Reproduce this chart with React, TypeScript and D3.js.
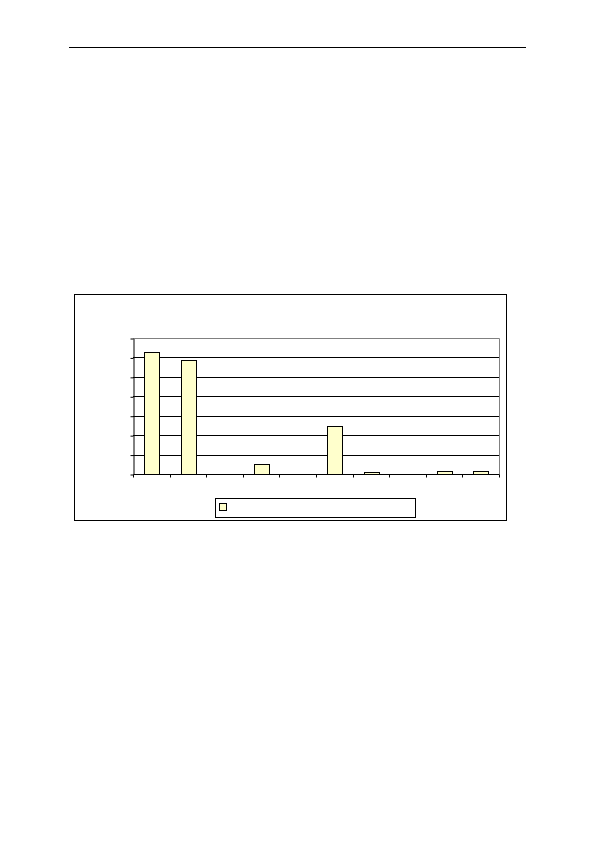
import React, { useRef, useEffect } from 'react';
import * as d3 from 'd3';

// category ids (the original chart shows no axis labels)
const categories = ['c1', 'c2', 'c3', 'c4', 'c5', 'c6', 'c7', 'c8', 'c9', 'c10'];
const values = [62.7, 58.6, 0, 5.2, 0, 24.9, 1.0, 0, 1.6, 1.6];
const yTicks = [0, 10, 20, 30, 40, 50, 60, 70];

const App: React.FC = () => {
  const svgRef = useRef<SVGSVGElement>(null);

  useEffect(() => {
    const svg = d3.select(svgRef.current);
    svg.selectAll('*').remove();

    // page header rule
    svg.append('line')
      .attr('x1', 69).attr('x2', 526)
      .attr('y1', 47.5).attr('y2', 47.5)
      .attr('stroke', '#000').attr('stroke-width', 1.2);

    // chart frame
    svg.append('rect')
      .attr('x', 74.5).attr('y', 294.5)
      .attr('width', 432).attr('height', 226)
      .attr('fill', '#fff').attr('stroke', '#000').attr('stroke-width', 1);

    const left = 133, right = 499, top = 338, bottom = 474;

    const x = d3.scaleBand<string>()
      .domain(categories)
      .range([left, right])
      .paddingInner(0.6)
      .paddingOuter(0.3);

    const xEdges = d3.scaleBand<string>()
      .domain(categories)
      .range([left, right])
      .padding(0);

    const y = d3.scaleLinear().domain([0, 70]).range([bottom, top]);

    // gridlines
    svg.append('g')
      .selectAll('line')
      .data(yTicks.filter(t => t > 0 && t < 70))
      .join('line')
      .attr('x1', left).attr('x2', right)
      .attr('y1', d => Math.round(y(d)) + 0.5)
      .attr('y2', d => Math.round(y(d)) + 0.5)
      .attr('stroke', '#000').attr('stroke-width', 1);

    // plot area border (top / right), grey
    svg.append('path')
      .attr('d', `M${left},${top + 0.5}H${right + 0.5}V${bottom}`)
      .attr('fill', 'none')
      .attr('stroke', '#808080').attr('stroke-width', 1);

    // bars
    svg.append('g')
      .selectAll('rect')
      .data(values.map((v, i) => ({ name: categories[i], value: v })).filter(d => d.value > 0))
      .join('rect')
      .attr('x', d => Math.round(x(d.name)!) + 0.5)
      .attr('width', Math.round(x.bandwidth()))
      .attr('y', d => Math.round(y(d.value)) + 0.5)
      .attr('height', d => Math.round(y(0)) - Math.round(y(d.value)))
      .attr('fill', '#FFFFCC')
      .attr('stroke', '#000').attr('stroke-width', 1);

    // y axis
    const yAxis = svg.append('g')
      .attr('transform', `translate(${left + 0.5},0.5)`)
      .call(d3.axisLeft(y).tickValues(yTicks).tickSize(3).tickSizeOuter(0).tickFormat(() => ''));
    yAxis.selectAll('line').attr('stroke', '#000');
    yAxis.select('.domain').attr('stroke', '#000');

    // x axis with ticks at category boundaries
    const xAxis = svg.append('g')
      .attr('transform', `translate(0.5,${bottom + 0.5})`);
    xAxis.append('line')
      .attr('x1', left).attr('x2', right)
      .attr('y1', 0).attr('y2', 0)
      .attr('stroke', '#000');
    xAxis.selectAll('line.tick')
      .data([...categories.map(c => xEdges(c)!), right])
      .join('line')
      .attr('class', 'tick')
      .attr('x1', d => Math.round(d)).attr('x2', d => Math.round(d))
      .attr('y1', 0).attr('y2', 3)
      .attr('stroke', '#000');

    // legend
    svg.append('rect')
      .attr('x', 215.5).attr('y', 498.5)
      .attr('width', 200).attr('height', 19)
      .attr('fill', '#fff').attr('stroke', '#000').attr('stroke-width', 1);
    svg.append('rect')
      .attr('x', 219.5).attr('y', 503.5)
      .attr('width', 7).attr('height', 7)
      .attr('fill', '#FFFFCC').attr('stroke', '#000').attr('stroke-width', 1);
  }, []);

  return (
    <svg
      ref={svgRef}
      width={595}
      height={841}
      style={{ position: 'absolute', left: 0, top: 0, background: '#fff' }}
    />
  );
};

export default App;
